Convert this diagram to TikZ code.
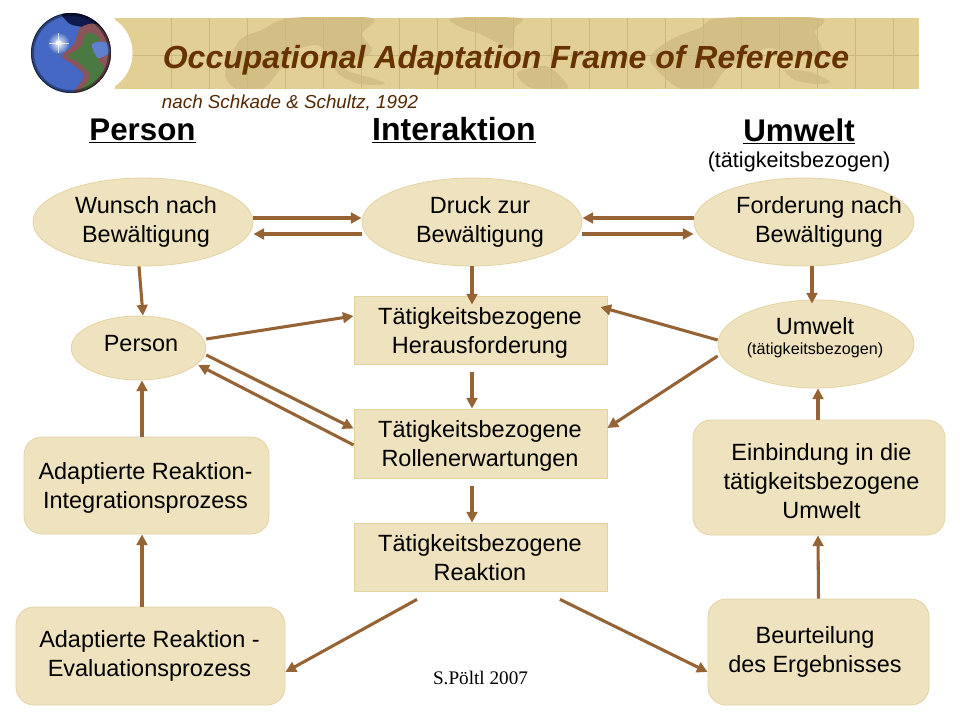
\documentclass[tikz,border=0pt]{standalone}
\usepackage{fontspec}
\setmainfont{Liberation Sans}
\newfontfamily\serifsig{Liberation Serif}
\usetikzlibrary{shapes.geometric,arrows.meta,fadings}
\definecolor{fillc}{HTML}{EFE3BF}
\definecolor{edgec}{HTML}{E3D3A3}
\definecolor{arrowc}{HTML}{956334}
\definecolor{bannerc}{HTML}{E2CF94}
\definecolor{landc}{HTML}{D3BE83}
\definecolor{gridc}{HTML}{CDB780}
\definecolor{titlec}{HTML}{663300}
\definecolor{oceanc}{HTML}{4468C4}
\definecolor{greenc}{HTML}{4A7A42}
\definecolor{redc}{HTML}{8A5458}
\tikzfading[name=glowfade, inner color=transparent!0, outer color=transparent!100]
\tikzset{
  x=0.75pt,y=-0.75pt,
  base/.style={fill=fillc,draw=edgec,line width=0.6pt,inner sep=0pt},
  oval/.style={base,ellipse},
  rectbox/.style={base,rectangle},
  roundbox/.style={base,rectangle,rounded corners=13.5pt},
  txt/.style={align=center,inner sep=0pt,font=\fontsize{17.6pt}{21.8pt}\selectfont,text=black},
  conn/.style={draw=arrowc,line width=2.3pt,-{Triangle[length=8pt,width=8pt]}},
  head/.style={inner sep=0pt,font=\bfseries\fontsize{23.5pt}{28pt}\selectfont},
  land/.style={fill=landc,draw=none},
  grid/.style={draw=gridc,line width=0.6pt},
}
\newcommand{\hd}[1]{\underline{\smash{#1}}}
\begin{document}
\begin{tikzpicture}
\useasboundingbox (0,0) rectangle (960,720);
\fill[white] (0,0) rectangle (960,720);
% banner
\fill[bannerc] (115,18) rectangle (919,89);
\begin{scope}
\clip (115,18) rectangle (919,89);
\fill[land] plot[smooth cycle] coordinates {(225,72)(240,40)(262,30)(290,18)(372,18)(362,34)(372,50)(358,60)(330,58)(318,45)(298,50)(280,70)(262,89)(236,89)};
\fill[land] plot[smooth cycle] coordinates {(332,62)(350,72)(372,78)(385,84)(360,84)(340,75)};
\fill[land] plot[smooth cycle] coordinates {(452,18)(520,18)(515,28)(512,48)(500,44)(480,34)(462,28)};
\fill[land] plot[smooth cycle] coordinates {(518,72)(545,66)(560,76)(567,89)(535,89)(522,82)};
\fill[land] plot[smooth cycle] coordinates {(650,60)(670,40)(700,28)(720,18)(820,18)(815,32)(822,50)(808,56)(790,55)(770,48)(750,55)(725,70)(710,89)(680,89)};
\fill[land] plot[smooth cycle] coordinates {(785,70)(810,72)(830,82)(815,84)(795,80)};
\foreach \gx in {171,209,247,285,323,361,399,437,475,513,551,589,627,665,703,741,779,817,855,893}
  \draw[grid] (\gx,18) -- (\gx,89);
\draw[grid] (115,55) -- (919,55);
\end{scope}
% globe
\fill[white] (92.5,53) circle (40);
\fill[oceanc] (71,53) circle (40);
\begin{scope}
\clip (71,53) circle (40);
\fill[black!85!blue,opacity=.75] plot[smooth cycle] coordinates {(62,12)(95,15)(113,42)(100,40)(85,28)(70,24)};
\fill[redc] plot[smooth cycle] coordinates {(80,28)(96,24)(110,40)(114,58)(106,74)(94,95)(72,96)(84,76)(72,64)(62,56)(74,44)};
\fill[greenc] plot[smooth cycle] coordinates {(86,34)(94,34)(100,40)(92,46)(100,62)(104,70)(92,86)(80,92)(90,76)(78,62)(68,56)(80,48)};
\fill[oceanc!85!white] plot[smooth cycle] coordinates {(92,44)(106,42)(110,52)(98,58)};
\draw[black,line width=3pt,opacity=.35] (71,53) circle (39);
\draw[black,line width=1.5pt,opacity=.45] (71,53) circle (40);
\end{scope}
\fill[white,path fading=glowfade] (58.5,43) circle (11);
\fill[white] (58.5,43) circle (2.5);
\draw[white,line width=0.4pt,opacity=.7] (58.5,33) -- (58.5,53) (48.5,43) -- (68.5,43);
\node[inner sep=0pt,font=\bfseries\itshape\fontsize{24pt}{26pt}\selectfont,text=titlec,anchor=center] (title) at (506,60) {Occupational Adaptation Frame of Reference};
\node[inner sep=0pt,font=\itshape\fontsize{14.1pt}{16pt}\selectfont,text=titlec!80!black,anchor=center] (sub) at (290,103) {nach Schkade \& Schultz, 1992};
% headings
\node[head] (hp) at (142.5,142) {\hd{Person}};
\node[head,font=\bfseries\fontsize{24pt}{28pt}\selectfont] (hi) at (454,142) {\hd{Interaktion}};
\node[head] (hu) at (799,143) {\hd{Umwelt}};
\node[inner sep=0pt,font=\fontsize{16.2pt}{18pt}\selectfont] (hus) at (799,162) {(tätigkeitsbezogen)};
% ellipses
\node[oval,minimum width=165pt,minimum height=66pt] (wunsch) at (143,222) {};
\node[oval,minimum width=165pt,minimum height=66pt] (druck) at (472,222) {};
\node[oval,minimum width=165pt,minimum height=66pt] (ford) at (804,222) {};
\node[oval,minimum width=101pt,minimum height=48pt] (person) at (138.5,348) {};
\node[oval,minimum width=147pt,minimum height=66pt] (umwelt) at (816,344) {};
% rectangles
\node[rectbox,minimum width=189.75pt,minimum height=51pt] (her) at (480.5,330) {};
\node[rectbox,minimum width=189.75pt,minimum height=51.75pt] (rol) at (480.5,443.5) {};
\node[rectbox,minimum width=189.75pt,minimum height=51pt] (rea) at (480.5,557) {};
% rounded boxes
\node[roundbox,minimum width=183.75pt,minimum height=72.75pt] (integ) at (146.5,485.5) {};
\node[roundbox,minimum width=201.75pt,minimum height=73.5pt] (eval) at (150.5,656) {};
\node[roundbox,minimum width=189pt,minimum height=86.25pt] (einb) at (819,477.5) {};
\node[roundbox,minimum width=165.75pt,minimum height=79.5pt] (beur) at (818.5,652) {};
% connectors
\draw[conn] ([shift={(0,-4)}]wunsch.east) -- ([shift={(0,-4)}]druck.west);
\draw[conn] ([shift={(0,12)}]druck.west) -- ([shift={(0,12)}]wunsch.east);
\draw[conn] ([shift={(0,-4)}]ford.west) -- ([shift={(0,-4)}]druck.east);
\draw[conn] ([shift={(0,12)}]druck.east) -- ([shift={(0,12)}]ford.west);
\draw[conn] ([shift={(-4,0)}]wunsch.south) -- ([shift={(4.5,0)}]person.north);
\draw[conn] (druck.south) -- ([shift={(-8.5,9)}]her.north);
\draw[conn] ([shift={(8,0)}]ford.south) -- ([shift={(-4,4)}]umwelt.north);
\draw[conn] ([shift={(0,-9)}]person.east) -- ([shift={(0,-14)}]her.west);
\draw[conn] ([shift={(0,7)}]person.east) -- ([shift={(0,-15)}]rol.west);
\draw[conn] ([shift={(0,1.5)}]rol.west) -- ([shift={(-8,17)}]person.east);
\draw[conn] ([shift={(0,-4)}]umwelt.west) -- ([shift={(-7,-23)}]her.east);
\draw[conn] ([shift={(0,12)}]umwelt.west) -- ([shift={(0,-15.5)}]rol.east);
\draw[conn] ([shift={(-8.5,8)}]her.south) -- ([shift={(-8.5,0)}]rol.north);
\draw[conn] ([shift={(-8.5,8)}]rol.south) -- ([shift={(-8.5,0)}]rea.north);
\draw[conn] ([shift={(-63.5,8)}]rea.south) -- ([shift={(0,16)}]eval.east);
\draw[conn] ([shift={(79.5,8)}]rea.south) -- ([shift={(0,20)}]beur.west);
\draw[conn] ([shift={(-4.5,0)}]integ.north) -- ([shift={(3.5,0)}]person.south);
\draw[conn] ([shift={(-8.5,0)}]eval.north) -- ([shift={(-4.5,0)}]integ.south);
\draw[conn] ([shift={(-1,0)}]einb.north) -- ([shift={(2,0)}]umwelt.south);
\draw[conn] ([shift={(0,0)}]beur.north) -- ([shift={(-1,0)}]einb.south);
% texts
\node[txt] (twunsch) at (146,221.5) {Wunsch nach\\Bewältigung};
\node[txt] (tdruck) at (480,221.5) {Druck zur\\Bewältigung};
\node[txt] (tford) at (819,221.5) {Forderung nach\\Bewältigung};
\node[txt] (tperson) at (141,344) {Person};
\node[txt] (tumwelt) at (815,326) {Umwelt};
\node[inner sep=0pt,font=\fontsize{12.1pt}{14pt}\selectfont] (tumwelts) at (815,350) {(tätigkeitsbezogen)};
\node[txt] (ther) at (480,332.5) {Tätigkeitsbezogene\\Herausforderung};
\node[txt] (trol) at (480,445.5) {Tätigkeitsbezogene\\Rollenerwartungen};
\node[txt] (trea) at (480,558) {Tätigkeitsbezogene\\Reaktion};
\node[txt] (tinteg) at (145.5,488) {Adaptierte Reaktion-\\Integrationsprozess};
\node[txt] (teval) at (149.5,656) {Adaptierte Reaktion -\\Evaluationsprozess};
\node[txt] (teinb) at (821.5,481) {Einbindung in die\\tätigkeitsbezogene\\Umwelt};
\node[txt] (tbeur) at (815,651.5) {Beurteilung\\des Ergebnisses};
\node[inner sep=0pt,font=\serifsig\fontsize{14.4pt}{16pt}\selectfont] (sig) at (480.5,678) {S.Pöltl 2007};
\end{tikzpicture}
\end{document}
